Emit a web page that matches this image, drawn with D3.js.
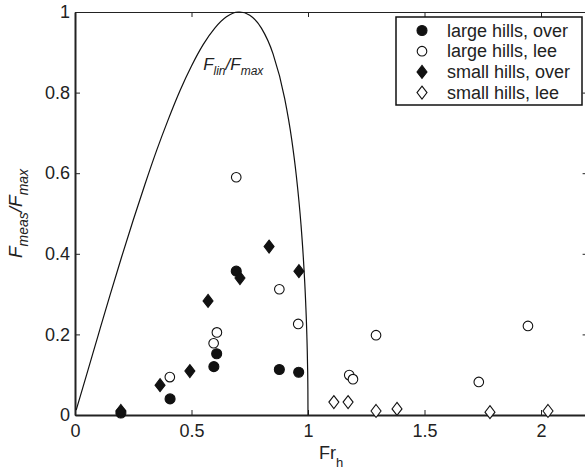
<!DOCTYPE html>
<html>
<head>
<meta charset="utf-8">
<script src="https://cdn.jsdelivr.net/npm/d3@7"></script>
<style>
  body { margin: 0; background: #fff; }
  svg { font-family: "Liberation Sans", Arial, Helvetica, sans-serif; }
</style>
</head>
<body>
<div id="chart"></div>
<script>
const largeOverX = [0.197, 0.408, 0.596, 0.608, 0.692, 0.877, 0.960];
const largeOverY = [0.005, 0.040, 0.120, 0.152, 0.357, 0.113, 0.106];

const largeLeeX = [0.407, 0.595, 0.609, 0.692, 0.877, 0.958, 1.177, 1.193, 1.292, 1.733, 1.944];
const largeLeeY = [0.094, 0.178, 0.205, 0.590, 0.312, 0.226, 0.099, 0.089, 0.198, 0.082, 0.221];

const smallOverX = [0.197, 0.365, 0.493, 0.571, 0.708, 0.833, 0.961];
const smallOverY = [0.010, 0.074, 0.109, 0.283, 0.340, 0.418, 0.357];

const smallLeeX = [1.111, 1.172, 1.292, 1.382, 1.781, 2.030];
const smallLeeY = [0.032, 0.032, 0.010, 0.015, 0.007, 0.010];

// F_lin/F_max curve
const curveX = [0.005, 0.05, 0.1, 0.15, 0.2, 0.25, 0.3, 0.35, 0.4, 0.45, 0.5, 0.55, 0.6, 0.65, 0.7, 0.707,
  0.75, 0.8, 0.85, 0.9, 0.93, 0.95, 0.97, 0.98, 0.99, 0.995, 0.998, 0.9995, 1.0];
const curveY = [0.012, 0.100, 0.199, 0.297, 0.392, 0.484, 0.572, 0.656, 0.733, 0.804, 0.866, 0.919, 0.960, 0.988, 1.0, 1.0,
  0.992, 0.960, 0.896, 0.785, 0.684, 0.593, 0.472, 0.390, 0.279, 0.199, 0.126, 0.063, 0];

const xTicks = [0, 0.5, 1, 1.5, 2];
const yTicks = [0, 0.2, 0.4, 0.6, 0.8, 1];
const legendLabels = ["large hills, over", "large hills, lee", "small hills, over", "small hills, lee"];

const width = 585, height = 471;
const plotLeft = 75, plotRight = 587.6, plotTop = 12, plotBottom = 415;

const svg = d3.select("#chart").append("svg")
    .attr("width", width)
    .attr("height", height);

const x = d3.scaleLinear().domain([0, 2.2]).range([plotLeft, plotRight]);
const y = d3.scaleLinear().domain([0, 1]).range([plotBottom, plotTop]);

// axes, ticks pointing inward
const fmt = d => d3.format("~g")(d);

svg.append("g")
    .attr("transform", `translate(0,${plotBottom})`)
    .call(d3.axisBottom(x).tickValues(xTicks).tickFormat(fmt).tickSize(-5).tickSizeOuter(0).tickPadding(9))
    .call(g => g.select(".domain").attr("stroke-width", 2));

svg.append("g")
    .attr("transform", `translate(${plotLeft},0)`)
    .call(d3.axisLeft(y).tickValues(yTicks).tickFormat(fmt).tickSize(-5).tickSizeOuter(0).tickPadding(5))
    .call(g => g.select(".domain").attr("stroke-width", 2));

svg.append("g")
    .attr("transform", `translate(0,${plotTop})`)
    .call(d3.axisTop(x).tickValues(xTicks).tickFormat("").tickSize(-5).tickSizeOuter(0));

svg.append("g")
    .attr("transform", `translate(${plotRight},0)`)
    .call(d3.axisRight(y).tickValues(yTicks).tickFormat("").tickSize(-5).tickSizeOuter(0));

svg.selectAll(".tick text")
    .attr("font-size", 18)
    .attr("font-family", "Liberation Sans, Arial, sans-serif")
    .attr("fill", "#222");
svg.selectAll(".domain, .tick line").attr("stroke", "#222");

// model curve
const line = d3.line()
    .x((d, i) => x(curveX[i]))
    .y((d, i) => y(curveY[i]))
    .curve(d3.curveMonotoneX);

svg.append("path")
    .datum(curveX)
    .attr("d", line)
    .attr("fill", "none")
    .attr("stroke", "#111")
    .attr("stroke-width", 1.2);

const label = svg.append("text")
    .attr("x", x(0.55))
    .attr("y", y(0.855))
    .attr("font-size", 17)
    .attr("font-style", "italic")
    .attr("fill", "#222");
label.append("tspan").text("F");
label.append("tspan").attr("font-size", 12).attr("dy", 5).text("lin");
label.append("tspan").attr("dy", -5).text("/F");
label.append("tspan").attr("font-size", 12).attr("dy", 5).text("max");

// markers
const diamond = "M0,-6.5L5,0L0,6.5L-5,0Z";

function circles(xs, ys, filled) {
    svg.append("g").selectAll("circle")
        .data(xs)
        .join("circle")
        .attr("cx", (d, i) => x(xs[i]))
        .attr("cy", (d, i) => y(ys[i]))
        .attr("r", filled ? 5 : 4.8)
        .attr("fill", filled ? "#111" : "#fff")
        .attr("stroke", "#111")
        .attr("stroke-width", 1.1);
}

function diamonds(xs, ys, filled) {
    svg.append("g").selectAll("path")
        .data(xs)
        .join("path")
        .attr("d", diamond)
        .attr("transform", (d, i) => `translate(${x(xs[i])},${y(ys[i])})`)
        .attr("fill", filled ? "#111" : "#fff")
        .attr("stroke", "#111")
        .attr("stroke-width", 1.1);
}

circles(largeOverX, largeOverY, true);
circles(largeLeeX, largeLeeY, false);
diamonds(smallOverX, smallOverY, true);
diamonds(smallLeeX, smallLeeY, false);

// axis labels
const xl = svg.append("text")
    .attr("x", 319)
    .attr("y", 459)
    .attr("font-size", 18)
    .attr("fill", "#222");
xl.append("tspan").text("Fr");
xl.append("tspan").attr("font-size", 13).attr("dy", 8).text("h");

const yl = svg.append("text")
    .attr("transform", `translate(22,${(plotTop + plotBottom) / 2}) rotate(-90)`)
    .attr("text-anchor", "middle")
    .attr("font-size", 19)
    .attr("font-style", "italic")
    .attr("fill", "#222");
yl.append("tspan").text("F");
yl.append("tspan").attr("font-size", 14).attr("dy", 6).text("meas");
yl.append("tspan").attr("dy", -6).text("/F");
yl.append("tspan").attr("font-size", 14).attr("dy", 6).text("max");

// legend
const legend = svg.append("g").attr("transform", "translate(396,17)");
legend.append("rect")
    .attr("width", 186)
    .attr("height", 88)
    .attr("fill", "#fff")
    .attr("stroke", "#111")
    .attr("stroke-width", 1.5);

const rows = legend.selectAll("g.row")
    .data(legendLabels)
    .join("g")
    .attr("class", "row")
    .attr("transform", (d, i) => `translate(0,${13.5 + i * 20.7})`);

rows.each(function (d, i) {
    const g = d3.select(this);
    if (i < 2) {
        g.append("circle").attr("cx", 26).attr("cy", 0).attr("r", i === 0 ? 5 : 4.8)
            .attr("fill", i === 0 ? "#111" : "#fff").attr("stroke", "#111").attr("stroke-width", 1.1);
    } else {
        g.append("path").attr("d", diamond).attr("transform", "translate(26,0)")
            .attr("fill", i === 2 ? "#111" : "#fff").attr("stroke", "#111").attr("stroke-width", 1.1);
    }
    g.append("text")
        .attr("x", 51)
        .attr("y", 6)
        .attr("font-size", 18)
        .attr("fill", "#222")
        .text(d);
});
</script>
</body>
</html>
